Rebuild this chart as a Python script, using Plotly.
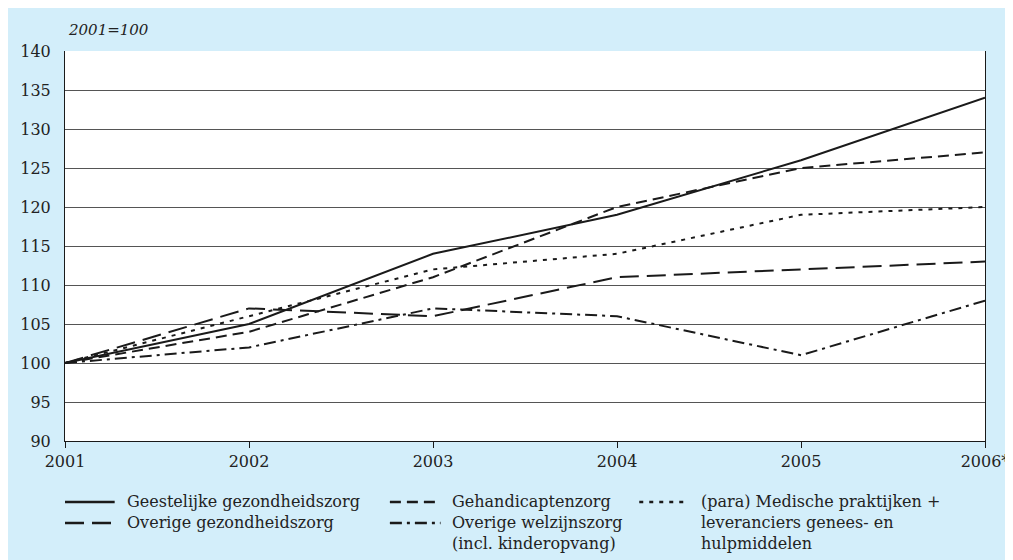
import plotly.graph_objects as go

years = [2001, 2002, 2003, 2004, 2005, 2006]
year_labels = ["2001", "2002", "2003", "2004", "2005", "2006*"]

geestelijke = [100, 105, 114, 119, 126, 134]
gehandicapten = [100, 104, 111, 120, 125, 127]
medische = [100, 106, 112, 114, 119, 120]
overige_gezond = [100, 107, 106, 111, 112, 113]
overige_welzijn = [100, 102, 107, 106, 101, 108]

names = [
    "Geestelijke gezondheidszorg",
    "Gehandicaptenzorg",
    "(para) Medische praktijken +<br>leveranciers genees- en<br>hulpmiddelen",
    "Overige gezondheidszorg",
    "Overige welzijnszorg<br>(incl. kinderopvang)",
]
series = [geestelijke, gehandicapten, medische, overige_gezond, overige_welzijn]
dashes = ["solid", "11px,6px", "4px,6px", "19px,8px", "12px,5px,3px,5px"]

W, H = 1013, 560
OFF = 8  # page body margin
L, R, T, B = 64 - OFF, 990 - OFF, 51 - OFF, 441 - OFF
BG = "#d3eefa"
FONT = "DejaVu Serif"

fig = go.Figure()
for s, n, d in zip(series, names, dashes):
    fig.add_trace(go.Scatter(x=years, y=s, mode="lines", name=n,
                             line=dict(color="#1a1a1a", width=2, dash=d),
                             showlegend=False))

pw, ph = R - L, B - T
def px(x):
    return (x - OFF - L) / pw
def py(y):
    return (B - (y - OFF)) / ph

shapes = []
legend_items = [
    (0, 0, names[0], dashes[0]),
    (1, 0, names[1], dashes[1]),
    (2, 0, names[2], dashes[2]),
    (0, 1, names[3], dashes[3]),
    (1, 1, names[4], dashes[4]),
]
col_x = [(64, 114, 124), (391, 442, 452), (642, 688, 702)]
row_y = [502, 523]
annotations = []
for c, r, n, d in legend_items:
    x0, x1, tx = col_x[c]
    y = row_y[r]
    shapes.append(dict(type="line", xref="paper", yref="paper", x0=px(x0), x1=px(x1),
                       y0=py(y), y1=py(y), line=dict(color="#1a1a1a", width=2.5, dash=d)))
    annotations.append(dict(xref="paper", yref="paper", x=px(tx), y=py(y - 12), text=n,
                            showarrow=False, xanchor="left", yanchor="top", align="left",
                            font=dict(family=FONT, size=16, color="#222")))

annotations.append(dict(xref="paper", yref="paper", x=px(65), y=py(30), text="<i>2001=100</i>",
                        showarrow=False, xanchor="left", yanchor="middle",
                        font=dict(family=FONT, size=15, color="#222")))

fig.update_layout(
    width=W, height=H,
    margin=dict(l=L, r=W - R, t=T, b=H - B, pad=0),
    paper_bgcolor=BG, plot_bgcolor="white",
    font=dict(family=FONT, size=16, color="#222"),
    shapes=shapes, annotations=annotations,
    showlegend=False,
)
fig.update_xaxes(range=[2001, 2006], tickvals=years, ticktext=year_labels,
                 showgrid=False, showline=True, linecolor="#1a1a1a", linewidth=1,
                 ticks="outside", ticklen=6, tickcolor="#1a1a1a", mirror=False,
                 zeroline=False, fixedrange=True)
fig.update_yaxes(range=[90, 140], dtick=5, tick0=90,
                 showgrid=True, gridcolor="#555", gridwidth=1,
                 showline=True, linecolor="#1a1a1a", linewidth=1, mirror=True,
                 ticks="", ticklabelstandoff=10, zeroline=False, fixedrange=True)

fig.write_html("out.html")
